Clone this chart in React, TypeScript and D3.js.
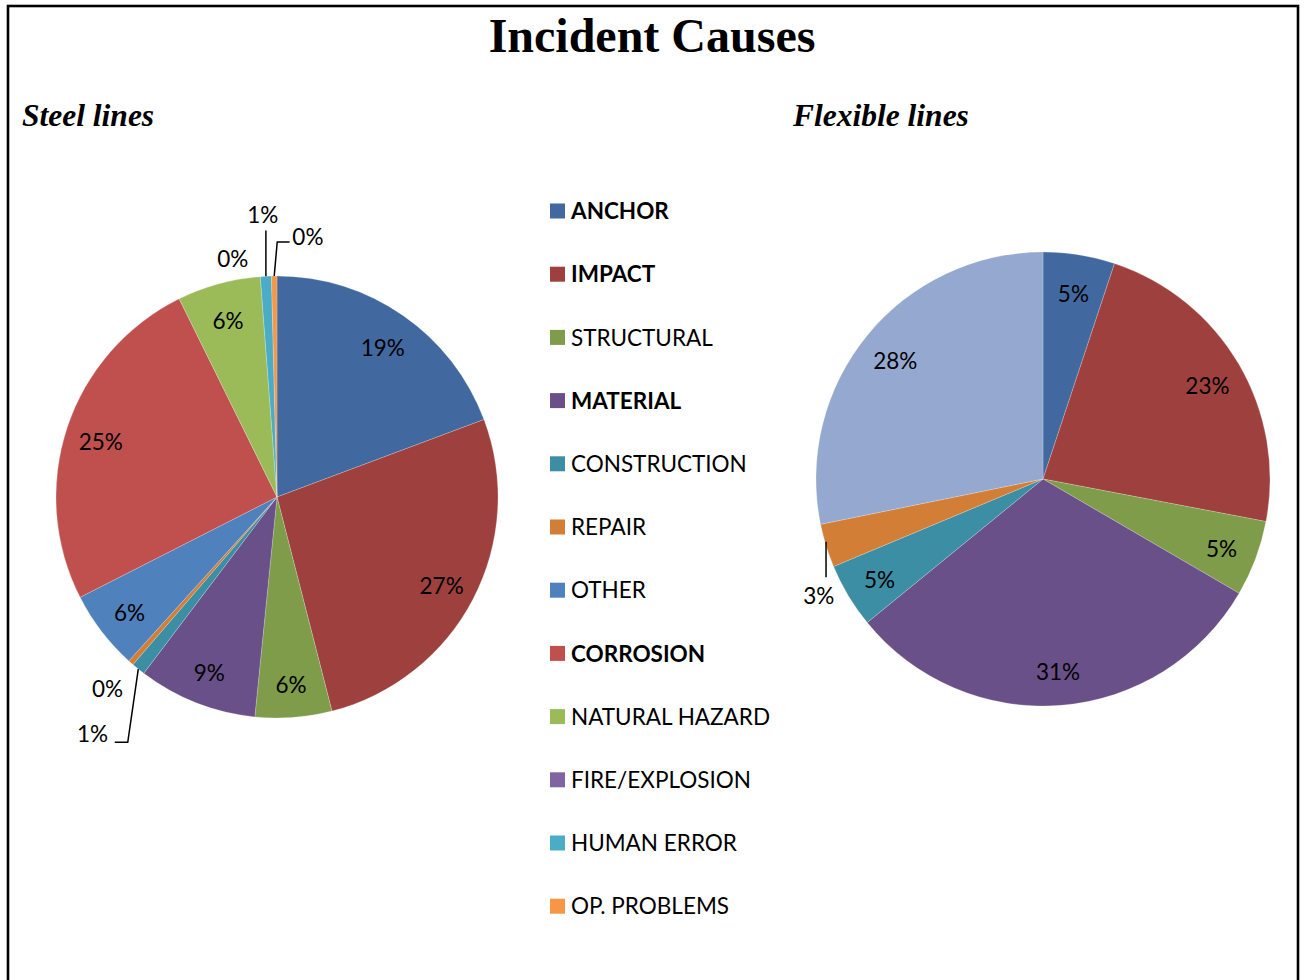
import React from "react";
import * as d3 from "d3";

// Causes in legend order
const CATEGORIES = [
  "ANCHOR",
  "IMPACT",
  "STRUCTURAL",
  "MATERIAL",
  "CONSTRUCTION",
  "REPAIR",
  "OTHER",
  "CORROSION",
  "NATURAL HAZARD",
  "FIRE/EXPLOSION",
  "HUMAN ERROR",
  "OP. PROBLEMS",
];
const BOLD_CATEGORIES = ["ANCHOR", "IMPACT", "MATERIAL", "CORROSION"];
const CATEGORY_COLORS = [
  "#4169a0",
  "#9e413e",
  "#7e9c49",
  "#6a5089",
  "#3c8ea5",
  "#d27e37",
  "#4f81bd",
  "#c0504d",
  "#9bbb59",
  "#8064a2",
  "#4bacc6",
  "#f79646",
];

// Steel lines: share of incidents (%) per cause
const STEEL_VALUES = [19.3, 26.7, 5.6, 8.7, 1.0, 0.4, 5.8, 25.2, 6.1, 0.0, 0.8, 0.4];

// Flexible lines: share of incidents (%)
const FLEXIBLE_CATEGORIES = ["ANCHOR", "IMPACT", "STRUCTURAL", "MATERIAL", "CONSTRUCTION", "REPAIR", "UNSPECIFIED"];
const FLEXIBLE_VALUES = [5.1, 22.9, 5.4, 30.7, 4.6, 3.1, 28.2];
const EXTRA_COLORS: Record<string, string> = { UNSPECIFIED: "#95a9d0" };

type Leader = "none" | "vertical" | "elbowRight" | "elbowLeft" | "down";
interface OutsideLabel {
  r: number; // radius factor
  da: number; // angle shift, degrees
  leader: Leader;
}

const STEEL_OUTSIDE: Record<string, OutsideLabel> = {
  REPAIR: { r: 1.16, da: 0, leader: "none" },
  CONSTRUCTION: { r: 1.36, da: -1, leader: "elbowLeft" },
  "FIRE/EXPLOSION": { r: 1.095, da: -6.2, leader: "none" },
  "HUMAN ERROR": { r: 1.28, da: 0, leader: "vertical" },
  "OP. PROBLEMS": { r: 1.185, da: 7.5, leader: "elbowRight" },
};
const FLEXIBLE_OUTSIDE: Record<string, OutsideLabel> = {
  REPAIR: { r: 1.115, da: -10.5, leader: "down" },
};

const LABEL_FONT = "Lato, 'Open Sans', sans-serif";
const LABEL_SIZE = 22.5;
const SERIF = "'Liberation Serif', 'Times New Roman', serif";

function colorOf(name: string): string {
  const i = CATEGORIES.indexOf(name);
  return i >= 0 ? CATEGORY_COLORS[i] : EXTRA_COLORS[name];
}

function polar(angle: number, radius: number): [number, number] {
  return [radius * Math.sin(angle), -radius * Math.cos(angle)];
}

interface PieProps {
  cx: number;
  cy: number;
  radius: number;
  names: string[];
  values: number[];
  outside: Record<string, OutsideLabel>;
}

function Pie({ cx, cy, radius, names, values, outside }: PieProps) {
  const rows = names.map((name, i) => ({ name, value: values[i] }));
  const total = d3.sum(values);
  const pie = d3
    .pie<{ name: string; value: number }>()
    .sort(null)
    .value((d) => d.value)
    .startAngle(0)
    .endAngle(2 * Math.PI);
  const arc = d3
    .arc<d3.PieArcDatum<{ name: string; value: number }>>()
    .innerRadius(0)
    .outerRadius(radius);
  const arcs = pie(rows);
  const fmt = (v: number) => `${Math.round((v / total) * 100)}%`;
  const halfW = LABEL_SIZE * 0.68;

  return (
    <g transform={`translate(${cx},${cy})`}>
      {arcs.map((a) =>
        a.endAngle - a.startAngle > 0 ? (
          <path
            key={a.data.name}
            d={arc(a) || ""}
            fill={colorOf(a.data.name)}
            stroke="#ffffff"
            strokeOpacity={0.35}
            strokeWidth={0.6}
          />
        ) : null
      )}
      {arcs.map((a) => {
        const mid = (a.startAngle + a.endAngle) / 2;
        const text = fmt(a.data.value);
        const spec = outside[a.data.name];
        if (!spec) {
          const [x, y] = polar(mid, radius * 0.84);
          return (
            <text
              key={a.data.name}
              x={x}
              y={y + 3}
              dy="0.36em"
              textAnchor="middle"
              fontFamily={LABEL_FONT}
              fontSize={LABEL_SIZE}
              fill="#000"
            >
              {text}
            </text>
          );
        }
        const la = mid + (spec.da * Math.PI) / 180;
        const [lx, ly] = polar(la, radius * spec.r);
        const [px, py] = polar(mid, radius);
        let pts: [number, number][] = [];
        if (spec.leader === "vertical") {
          pts = [
            [px, py],
            [px, ly + 16],
          ];
        } else if (spec.leader === "elbowRight") {
          pts = [
            [px, py],
            [px + 3, ly + 5],
            [lx - halfW - 3, ly + 5],
          ];
        } else if (spec.leader === "elbowLeft") {
          pts = [
            [px, py],
            [lx + halfW + 20, ly + 8],
            [lx + halfW + 7, ly + 8],
          ];
        } else if (spec.leader === "down") {
          pts = [
            [px, py - 4],
            [px, ly - 19],
          ];
        }
        return (
          <g key={a.data.name}>
            {pts.length > 0 && (
              <path d={d3.line()(pts) || ""} fill="none" stroke="#000" strokeWidth={1.5} />
            )}
            <text
              x={lx}
              y={ly}
              dy="0.36em"
              textAnchor="middle"
              fontFamily={LABEL_FONT}
              fontSize={LABEL_SIZE}
              fill="#000"
            >
              {text}
            </text>
          </g>
        );
      })}
    </g>
  );
}

function Legend({ x, y, step }: { x: number; y: number; step: number }) {
  const pos = d3
    .scalePoint<string>()
    .domain(CATEGORIES)
    .range([y, y + step * (CATEGORIES.length - 1)]);
  return (
    <g>
      {CATEGORIES.map((name, i) => {
        const cy = pos(name) as number;
        return (
          <g key={name}>
            <rect x={x} y={cy - 7.5} width={15} height={15} fill={CATEGORY_COLORS[i]} />
            <text
              x={x + 21}
              y={cy}
              dy="0.36em"
              fontFamily={LABEL_FONT}
              fontSize={LABEL_SIZE}
              fontWeight={BOLD_CATEGORIES.includes(name) ? 700 : 400}
              fill="#000"
            >
              {name}
            </text>
          </g>
        );
      })}
    </g>
  );
}

export default function App() {
  const W = 1304;
  const H = 980;
  return (
    <svg
      width={W}
      height={H}
      viewBox={`0 0 ${W} ${H}`}
      style={{ position: "absolute", left: 0, top: 0, background: "#fff" }}
    >
      <rect x={0} y={0} width={W} height={H} fill="#fff" />
      <rect x={8} y={6} width={1290} height={H + 20} fill="none" stroke="#000" strokeWidth={2.6} />
      <text x={652} y={52} textAnchor="middle" fontFamily={SERIF} fontWeight={700} fontSize={48} fill="#000">
        Incident Causes
      </text>
      <text x={22} y={126} fontFamily={SERIF} fontWeight={700} fontStyle="italic" fontSize={31.5} fill="#000">
        Steel lines
      </text>
      <text x={793} y={126} fontFamily={SERIF} fontWeight={700} fontStyle="italic" fontSize={31.5} fill="#000">
        Flexible lines
      </text>
      <Pie cx={277} cy={497} radius={221} names={CATEGORIES} values={STEEL_VALUES} outside={STEEL_OUTSIDE} />
      <Pie
        cx={1043}
        cy={479}
        radius={227}
        names={FLEXIBLE_CATEGORIES}
        values={FLEXIBLE_VALUES}
        outside={FLEXIBLE_OUTSIDE}
      />
      <Legend x={550} y={211} step={63.2} />
    </svg>
  );
}
